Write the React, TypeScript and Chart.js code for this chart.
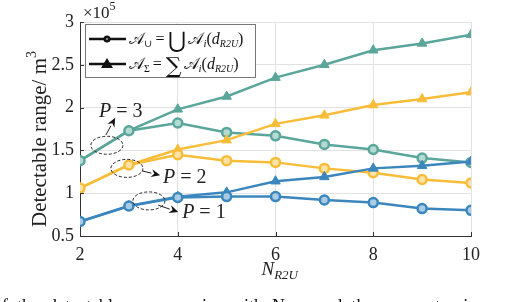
import React, { useEffect, useRef } from "react";
import { Chart, registerables } from "chart.js";

Chart.register(...registerables);

const nR2U = [2, 3, 4, 5, 6, 7, 8, 9, 10];
const yTicks = [0.5, 1, 1.5, 2, 2.5, 3];
const xTicks = [2, 4, 6, 8, 10];

const unionP3 = [1.38, 1.73, 1.82, 1.71, 1.67, 1.57, 1.51, 1.41, 1.36];
const sumP3 = [1.38, 1.73, 1.98, 2.13, 2.35, 2.5, 2.67, 2.75, 2.85];
const unionP2 = [1.06, 1.33, 1.45, 1.38, 1.36, 1.29, 1.24, 1.16, 1.12];
const sumP2 = [1.06, 1.33, 1.51, 1.62, 1.81, 1.91, 2.03, 2.1, 2.18];
const unionP1 = [0.67, 0.85, 0.95, 0.96, 0.96, 0.92, 0.89, 0.82, 0.8];
const sumP1 = [0.67, 0.85, 0.96, 1.01, 1.14, 1.19, 1.29, 1.32, 1.37];

const TEAL = "#5aa69b";
const YELLOW = "#f8bd38";
const BLUE = "#3b87bd";
const TEAL_L = "#b4dad4";
const YELLOW_L = "#fde3a6";
const BLUE_L = "#a9cbe4";

// annotation anchors in data units
const annLabels = ["3", "2", "1"];
const annEllipse = [
  [2.55, 1.56],
  [2.96, 1.29],
  [3.41, 0.91],
];
const annArrowFrom = [
  [2.53, 1.68],
  [3.27, 1.26],
  [3.6, 0.86],
];
const annArrowTo = [
  [2.72, 1.88],
  [3.64, 1.21],
  [4.01, 0.78],
];
const annText = [
  [2.39, 1.89],
  [3.7, 1.12],
  [4.09, 0.71],
];

const SERIF = '"Liberation Serif", "DejaVu Serif", serif';

type Seg = { t: string; size: number; italic?: boolean; dy?: number; family?: string };

function drawSegs(ctx: CanvasRenderingContext2D, x: number, y: number, segs: Seg[]) {
  let cx = x;
  for (const s of segs) {
    ctx.font = `${s.italic ? "italic " : ""}${s.size}px ${s.family || SERIF}`;
    ctx.fillText(s.t, cx, y + (s.dy || 0));
    cx += ctx.measureText(s.t).width;
  }
  return cx;
}

const decorPlugin = {
  id: "decor",
  afterDraw(chart: any) {
    const ctx: CanvasRenderingContext2D = chart.ctx;
    const xs = chart.scales.x;
    const ys = chart.scales.y;
    const a = chart.chartArea;
    ctx.save();
    // inward ticks
    ctx.strokeStyle = "#333";
    ctx.lineWidth = 1;
    ctx.beginPath();
    for (const v of yTicks) {
      const py = Math.round(ys.getPixelForValue(v)) + 0.5;
      ctx.moveTo(a.left, py);
      ctx.lineTo(a.left + 4, py);
    }
    for (const v of xTicks) {
      const px = Math.round(xs.getPixelForValue(v)) + 0.5;
      ctx.moveTo(px, a.bottom);
      ctx.lineTo(px, a.bottom - 4);
    }
    ctx.stroke();

    ctx.fillStyle = "#222";
    ctx.textBaseline = "alphabetic";
    ctx.textAlign = "left";
    // x10^5
    drawSegs(ctx, a.left + 3, 18, [{ t: "×10", size: 17 }]);
    const w = ctx.measureText("×10").width;
    drawSegs(ctx, a.left + 3 + w, 10, [{ t: "5", size: 12 }]);

    // x axis title
    const xc = (a.left + a.right) / 2;
    drawSegs(ctx, xc - 14, 275, [
      { t: "N", size: 19, italic: true },
      { t: "R2U", size: 13, italic: true, dy: 4 },
    ]);

    // y axis title
    ctx.save();
    ctx.translate(46, (a.top + a.bottom) / 2 + 10);
    ctx.rotate(-Math.PI / 2);
    ctx.font = `21px ${SERIF}`;
    const t1 = "Detectable range/ m";
    const tw = ctx.measureText(t1).width;
    ctx.font = `14px ${SERIF}`;
    const tw2 = ctx.measureText("3").width;
    const sx = -(tw + tw2) / 2;
    drawSegs(ctx, sx, 0, [{ t: t1, size: 21 }]);
    drawSegs(ctx, sx + tw, -10, [{ t: "3", size: 14 }]);
    ctx.restore();

    // annotations
    for (let i = 0; i < annLabels.length; i++) {
      const ex = xs.getPixelForValue(annEllipse[i][0]);
      const ey = ys.getPixelForValue(annEllipse[i][1]);
      ctx.strokeStyle = "#222";
      ctx.lineWidth = 1;
      ctx.setLineDash([3, 2]);
      ctx.beginPath();
      ctx.ellipse(ex, ey, 16, 9, 0, 0, Math.PI * 2);
      ctx.stroke();
      ctx.setLineDash([]);
      const fx = xs.getPixelForValue(annArrowFrom[i][0]);
      const fy = ys.getPixelForValue(annArrowFrom[i][1]);
      const tx = xs.getPixelForValue(annArrowTo[i][0]);
      const ty = ys.getPixelForValue(annArrowTo[i][1]);
      const ang = Math.atan2(ty - fy, tx - fx);
      const hl = 9;
      const bx = tx - hl * Math.cos(ang);
      const by = ty - hl * Math.sin(ang);
      ctx.beginPath();
      ctx.moveTo(fx, fy);
      ctx.lineTo(bx, by);
      ctx.stroke();
      ctx.fillStyle = "#111";
      ctx.beginPath();
      ctx.moveTo(tx, ty);
      ctx.lineTo(bx + 4 * Math.cos(ang + Math.PI / 2), by + 4 * Math.sin(ang + Math.PI / 2));
      ctx.lineTo(tx - 6 * Math.cos(ang), ty - 6 * Math.sin(ang));
      ctx.lineTo(bx + 4 * Math.cos(ang - Math.PI / 2), by + 4 * Math.sin(ang - Math.PI / 2));
      ctx.closePath();
      ctx.fill();
      ctx.fillStyle = "#222";
      const px = xs.getPixelForValue(annText[i][0]);
      const py = ys.getPixelForValue(annText[i][1]);
      drawSegs(ctx, px, py, [
        { t: "P", size: 20, italic: true },
        { t: " = ", size: 20 },
        { t: annLabels[i], size: 20 },
      ]);
    }

    // legend
    const lx = a.left + 5;
    const ly = a.top + 2;
    const lw = 170;
    const lh = 53;
    ctx.fillStyle = "#fff";
    ctx.fillRect(lx, ly, lw, lh);
    ctx.strokeStyle = "#777";
    ctx.lineWidth = 1;
    ctx.strokeRect(lx + 0.5, ly + 0.5, lw, lh);
    const rows = [ly + 15, ly + 40];
    for (let r = 0; r < 2; r++) {
      const ry = rows[r];
      ctx.strokeStyle = "#111";
      ctx.lineWidth = 2.5;
      ctx.beginPath();
      ctx.moveTo(lx + 4, ry);
      ctx.lineTo(lx + 41, ry);
      ctx.stroke();
      ctx.fillStyle = "#111";
      const mx = lx + 22;
      if (r === 0) {
        ctx.beginPath();
        ctx.arc(mx, ry, 3.5, 0, Math.PI * 2);
        ctx.fill();
        ctx.fillStyle = "#888";
        ctx.beginPath();
        ctx.arc(mx, ry, 1.2, 0, Math.PI * 2);
        ctx.fill();
      } else {
        ctx.beginPath();
        ctx.moveTo(mx, ry - 6);
        ctx.lineTo(mx + 6, ry + 4);
        ctx.lineTo(mx - 6, ry + 4);
        ctx.closePath();
        ctx.fill();
      }
      ctx.fillStyle = "#111";
      const base = ry + 5;
      let cx = lx + 44;
      cx = drawSegs(ctx, cx, base, [
        { t: "𝒜", size: 16, family: '"DejaVu Serif", "DejaVu Sans", serif' },
      ]);
      cx = drawSegs(ctx, cx, base + 3, [{ t: r === 0 ? "∪" : "Σ", size: 10 }]);
      cx = drawSegs(ctx, cx + 3, base, [{ t: "=", size: 16 }]);
      cx = drawSegs(ctx, cx + 4, base + 4, [{ t: r === 0 ? "⋃" : "∑", size: 22, family: '"DejaVu Serif", serif' }]);
      cx = drawSegs(ctx, cx + 2, base, [
        { t: "𝒜", size: 16, family: '"DejaVu Serif", "DejaVu Sans", serif' },
      ]);
      cx = drawSegs(ctx, cx, base + 3, [{ t: "i", size: 11, italic: true }]);
      cx = drawSegs(ctx, cx, base, [
        { t: "(", size: 16 },
        { t: "d", size: 16, italic: true },
      ]);
      cx = drawSegs(ctx, cx, base + 3, [{ t: "R2U", size: 10, italic: true }]);
      drawSegs(ctx, cx, base, [{ t: ")", size: 16 }]);
    }

    // cut caption fragment at bottom
    ctx.fillStyle = "#111";
    drawSegs(ctx, 2, 312, [
      { t: "f  the  detectable  range  varies  with  N       and  the  parameter  i", size: 18 },
    ]);
    ctx.restore();
  },
};

function ds(label: string, data: number[], color: string, light: string, style: string) {
  const circ = style === "circle";
  return {
    label,
    data: nR2U.map((x, i) => ({ x, y: data[i] })),
    borderColor: color,
    backgroundColor: color,
    borderWidth: 2.5,
    pointStyle: style,
    pointRadius: circ ? 4.5 : 5.5,
    pointBorderWidth: circ ? 2.5 : 1,
    pointBorderColor: color,
    pointBackgroundColor: circ ? light : color,
    tension: 0,
  };
}

export default function App() {
  const ref = useRef<HTMLCanvasElement>(null);
  useEffect(() => {
    document.body.style.margin = "0";
    const chart = new Chart(ref.current!, {
      type: "line",
      data: {
        datasets: [
          ds("uP1", unionP1, BLUE, BLUE_L, "circle"),
          ds("sP1", sumP1, BLUE, BLUE_L, "triangle"),
          ds("uP2", unionP2, YELLOW, YELLOW_L, "circle"),
          ds("sP2", sumP2, YELLOW, YELLOW_L, "triangle"),
          ds("uP3", unionP3, TEAL, TEAL_L, "circle"),
          ds("sP3", sumP3, TEAL, TEAL_L, "triangle"),
        ] as any,
      },
      options: {
        responsive: false,
        animation: false,
        layout: { padding: { top: 22, right: 35, left: 0, bottom: 0 } },
        plugins: { legend: { display: false }, tooltip: { enabled: false } },
        scales: {
          x: {
            type: "linear",
            min: 2,
            max: 10,
            afterBuildTicks: (s: any) => {
              s.ticks = xTicks.map((v) => ({ value: v }));
            },
            afterFit: (s: any) => {
              s.height = 66;
            },
            grid: { color: "#e2e2e2", drawTicks: false },
            border: { display: true, color: "#333", width: 1 },
            ticks: {
              padding: 8,
              color: "#222",
              font: { family: SERIF, size: 18 },
              maxRotation: 0,
            },
          },
          y: {
            type: "linear",
            min: 0.5,
            max: 3,
            afterBuildTicks: (s: any) => {
              s.ticks = yTicks.map((v) => ({ value: v }));
            },
            afterFit: (s: any) => {
              s.width = 80;
            },
            grid: { color: "#e2e2e2", drawTicks: false },
            border: { display: true, color: "#333", width: 1 },
            ticks: {
              padding: 6,
              color: "#222",
              font: { family: SERIF, size: 18 },
              callback: (v: any) => String(v),
            },
          },
        },
      },
      plugins: [decorPlugin],
    });
    return () => chart.destroy();
  }, []);
  return <canvas ref={ref} width={506} height={302} style={{ display: "block" }} />;
}
